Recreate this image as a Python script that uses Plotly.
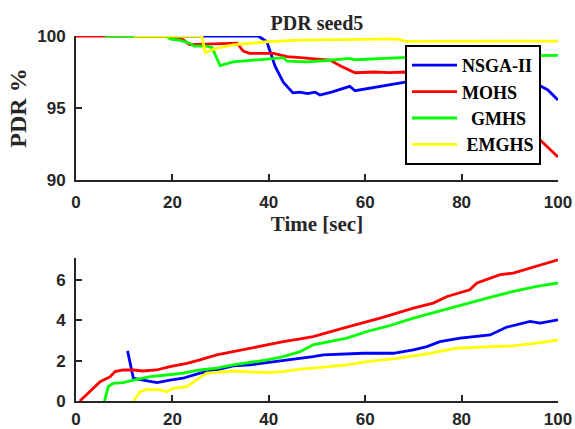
import plotly.graph_objects as go

# ---------------- data (top: PDR %) ----------------
nsga_t = [12, 37.8, 39.6, 41.3, 43, 45, 46.5, 48, 49.6, 50.6, 53, 56.8, 57.9, 62, 68.3, 75, 85, 93, 96, 97.9, 100]
nsga_pdr = [100, 100, 99.6, 97.9, 96.8, 96.05, 96.1, 96.0, 96.1, 95.9, 96.1, 96.5, 96.2, 96.45, 96.8, 96.95, 97.0, 96.9, 96.6, 96.25, 95.56]

mohs_t = [0, 19.5, 20, 22.2, 23.6, 27, 33.4, 34.7, 36, 41, 42.3, 43.8, 46.5, 49, 52.7, 55, 57.9, 62, 65, 68.3, 72, 80, 88, 94, 97.9, 100]
mohs_pdr = [100, 100, 99.8, 99.75, 99.4, 99.45, 99.5, 98.95, 98.8, 98.8, 98.7, 98.56, 98.5, 98.45, 98.33, 97.9, 97.45, 97.5, 97.45, 97.5, 97.3, 96.5, 95.0, 93.5, 92.3, 91.6]

gmhs_t = [6, 18.8, 19.5, 21.6, 23.6, 24.5, 27.1, 28.2, 29.9, 32.6, 39.6, 43, 43.8, 47.9, 52, 56.8, 57.9, 63, 68.7, 80, 100]
gmhs_pdr = [100, 100, 99.8, 99.7, 99.5, 99.3, 99.3, 99.2, 97.95, 98.2, 98.4, 98.5, 98.25, 98.2, 98.3, 98.45, 98.35, 98.45, 98.52, 98.6, 98.65]

emghs_t = [12, 26.1, 26.8, 29.2, 32.6, 39.6, 46.5, 56, 66.6, 68.5, 80, 100]
emghs_pdr = [100, 100, 98.85, 99.15, 99.38, 99.6, 99.72, 99.75, 99.8, 99.62, 99.63, 99.65]

# ---------------- data (bottom) ----------------
nsga_t2 = [10.7, 11.9, 13.9, 16.8, 19.5, 22.2, 25.7, 29.2, 32.6, 36.1, 39.6, 43, 46.5, 49.2, 51.3, 59.6, 65.8, 70, 72.8, 75.5, 79.7, 82.4, 85.9, 89.4, 94.2, 96.3, 100]
nsga_v2 = [2.49, 1.13, 1.04, 0.91, 1.04, 1.13, 1.38, 1.54, 1.74, 1.79, 1.91, 2.0, 2.12, 2.2, 2.29, 2.37, 2.37, 2.54, 2.7, 2.95, 3.12, 3.2, 3.28, 3.67, 3.95, 3.87, 4.03]

mohs_t2 = [0.8, 2.9, 5, 7.1, 8.1, 9.8, 11.9, 13.9, 16.7, 19.5, 23, 25.7, 29.2, 32.6, 36.1, 39.6, 43, 46.5, 49.2, 56.2, 63.1, 70, 74.1, 77, 81.7, 83.2, 88, 90.7, 94.2, 100]
mohs_v2 = [0, 0.46, 0.96, 1.21, 1.46, 1.54, 1.54, 1.49, 1.54, 1.71, 1.87, 2.04, 2.29, 2.45, 2.62, 2.79, 2.95, 3.08, 3.2, 3.67, 4.11, 4.61, 4.86, 5.19, 5.52, 5.86, 6.27, 6.35, 6.6, 7.01]

gmhs_t2 = [5.9, 6.7, 7.7, 9.8, 11.9, 15.4, 18.8, 22.2, 25.7, 29.2, 32.6, 36.1, 39.6, 43, 46.5, 49.2, 56.2, 60.4, 64.5, 70, 74.9, 80.3, 85.3, 90.7, 95.6, 100]
gmhs_v2 = [0, 0.71, 0.88, 0.91, 1.04, 1.21, 1.29, 1.38, 1.54, 1.63, 1.79, 1.91, 2.04, 2.2, 2.45, 2.79, 3.12, 3.45, 3.7, 4.11, 4.44, 4.78, 5.11, 5.44, 5.69, 5.86]

emghs_t2 = [11.9, 13.3, 14.7, 17.4, 18.8, 20.1, 23, 25, 27.1, 32.6, 39.6, 43, 46.5, 49.2, 56.2, 60.4, 66.6, 73.4, 79, 83.8, 90.7, 95.6, 100]
emghs_v2 = [0, 0.46, 0.58, 0.55, 0.46, 0.63, 0.71, 1.04, 1.38, 1.49, 1.41, 1.46, 1.58, 1.63, 1.79, 1.96, 2.12, 2.37, 2.62, 2.67, 2.74, 2.87, 3.03]

names = ["NSGA-II", "MOHS", "\u00a0\u00a0GMHS", "\u00a0EMGHS"]
colors = ["#0000FF", "#FF0000", "#00FF00", "#FFFF00"]

top_series = [(nsga_t, nsga_pdr), (mohs_t, mohs_pdr), (gmhs_t, gmhs_pdr), (emghs_t, emghs_pdr)]
bot_series = [(nsga_t2, nsga_v2), (mohs_t2, mohs_v2), (gmhs_t2, gmhs_v2), (emghs_t2, emghs_v2)]

fig = go.Figure()
for (t, v), n, c in zip(top_series, names, colors):
    fig.add_trace(go.Scatter(x=t, y=v, mode="lines", name=n, line=dict(color=c, width=2.8),
                             xaxis="x", yaxis="y", showlegend=True))
for (t, v), n, c in zip(bot_series, names, colors):
    fig.add_trace(go.Scatter(x=t, y=v, mode="lines", name=n, line=dict(color=c, width=2.8),
                             xaxis="x2", yaxis="y2", showlegend=False))

axcol = "#262626"
serif = "Liberation Serif, Times New Roman, serif"
tickfont = dict(family="Liberation Sans, Arial", size=17, color=axcol, weight="bold")
common = dict(showline=True, linecolor=axcol, linewidth=2, ticks="inside", ticklen=6,
              tickwidth=2, tickcolor=axcol, showgrid=False, zeroline=False,
              tickfont=tickfont, mirror=False, automargin=False)

fig.update_layout(
    width=575, height=429,
    margin=dict(l=76, r=17, t=36, b=28, autoexpand=False),
    paper_bgcolor="white", plot_bgcolor="white",
    title=dict(text="PDR seed5", xref="paper", x=0.5, xanchor="center", y=0.947, yanchor="middle",
               automargin=False,
               font=dict(family=serif, size=20, color=axcol, weight="bold")),
    xaxis=dict(domain=[0, 1], range=[0, 100], tickvals=[0, 20, 40, 60, 80, 100], anchor="y",
               ticklabelstandoff=6,
               title=dict(text="Time [sec]", standoff=4,
                          font=dict(family=serif, size=21, color=axcol, weight="bold")),
               **common),
    yaxis=dict(domain=[0.6055, 1], range=[90, 100], tickvals=[90, 95, 100], anchor="x",
               ticklabelstandoff=5,
               title=dict(text="PDR %", standoff=4,
                          font=dict(family=serif, size=24, color=axcol, weight="bold")),
               **common),
    xaxis2=dict(domain=[0, 1], range=[0, 100], tickvals=[0, 20, 40, 60, 80, 100], anchor="y2",
                ticklabelstandoff=2, **common),
    yaxis2=dict(domain=[0, 0.3918], range=[0, 7.1], tickvals=[0, 2, 4, 6], anchor="x2",
                ticklabelstandoff=5, **common),
    legend=dict(x=0.6826, y=0.9753, xanchor="left", yanchor="top",
                bgcolor="white", bordercolor="black", borderwidth=2,
                font=dict(family=serif, size=18, color="black", weight="bold"),
                itemwidth=45, tracegroupgap=0),
)

fig.write_html("out.html")
